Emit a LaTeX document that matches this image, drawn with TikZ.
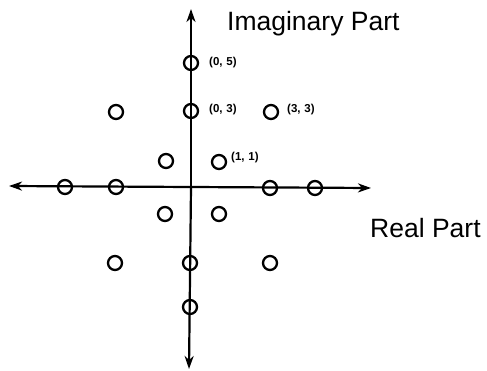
\documentclass[tikz,border=0pt]{standalone}
\usepackage{fontspec}
\setmainfont{Liberation Sans}
\usetikzlibrary{arrows.meta}
\begin{document}
\begin{tikzpicture}[x=1pt,y=-1pt,
  axis/.style={line width=2.2pt,-{Stealth[length=13pt,width=9pt,inset=4pt]}},
  pt/.style={circle,draw,line width=2.3pt,minimum size=14pt,inner sep=0pt},
  coordlbl/.style={font=\fontsize{11.5}{13}\selectfont\bfseries,inner sep=0pt,anchor=west},
  axlbl/.style={font=\fontsize{26.5}{30}\selectfont,inner sep=0pt}]
\useasboundingbox (0,0) rectangle (487,371);
\coordinate (O) at (191,187);
\coordinate (top) at (191,9);
\coordinate (bot) at (189,369);
\coordinate (left) at (9,186);
\coordinate (right) at (371,188);
\draw[axis] (O) -- (top);
\draw[axis] (O) -- (bot);
\draw[axis] (O) -- (left);
\draw[axis] (O) -- (right);
% points
\node[pt] (p05) at (191,63) {};
\node[pt] (p03) at (191,111) {};
\node[pt] (pm33) at (116,112) {};
\node[pt] (p33) at (271,112) {};
\node[pt] (pm11) at (166,161) {};
\node[pt] (p11) at (219,162) {};
\node[pt] (pm50) at (65,187) {};
\node[pt] (pm30) at (116,187) {};
\node[pt] (p30) at (270,188) {};
\node[pt] (p50) at (315,188) {};
\node[pt] (pm1m1) at (165,214) {};
\node[pt] (p1m1) at (219,214) {};
\node[pt] (pm3m3) at (115,263) {};
\node[pt] (p0m3) at (190,263) {};
\node[pt] (p3m3) at (270,263) {};
\node[pt] (p0m5) at (190,307) {};
% labels
\node[coordlbl] (l05) at (209,63) {(0,\,\,5)};
\node[coordlbl] (l03) at (209,110) {(0,\,\,3)};
\node[coordlbl] (l33) at (287,110) {(3,\,\,3)};
\node[coordlbl] (l11) at (231,158) {(1,\,\,1)};
\node[axlbl,anchor=west] (im) at (227,24) {Imaginary Part};
\node[axlbl,anchor=west] (re) at (370,228) {Real Part};
\end{tikzpicture}
\end{document}
